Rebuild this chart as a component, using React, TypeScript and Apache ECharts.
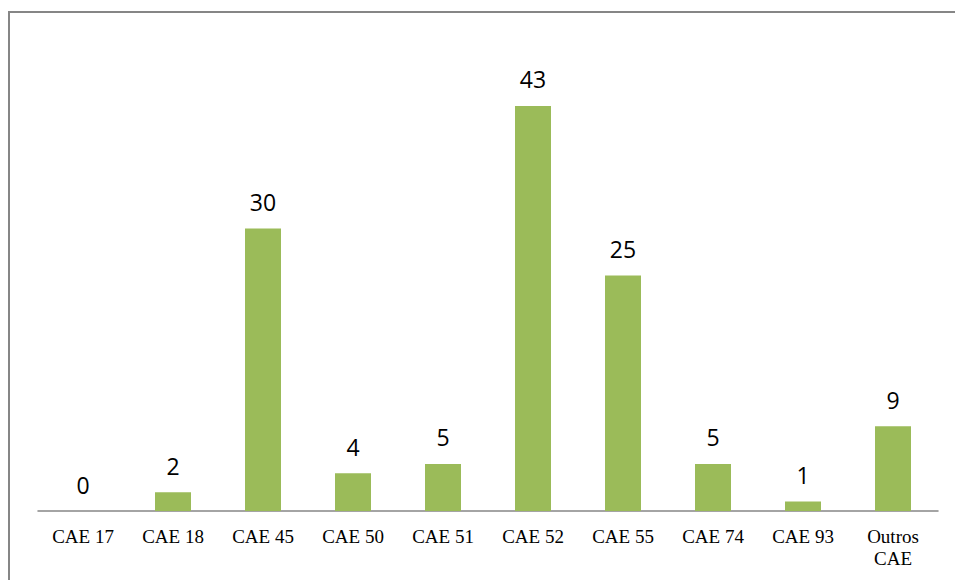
import React, { useEffect, useRef } from "react";
import * as echarts from "echarts";

const categories: string[] = [
  "CAE 17",
  "CAE 18",
  "CAE 45",
  "CAE 50",
  "CAE 51",
  "CAE 52",
  "CAE 55",
  "CAE 74",
  "CAE 93",
  "Outros\nCAE",
];
const values: number[] = [0, 2, 30, 4, 5, 43, 25, 5, 1, 9];

const BAR_COLOR = "#9BBB59";
const AXIS_COLOR = "#868686";

export default function App() {
  const ref = useRef<HTMLDivElement>(null);

  useEffect(() => {
    if (!ref.current) return;
    const chart = echarts.init(ref.current, undefined, { renderer: "svg" });
    chart.setOption({
      animation: false,
      backgroundColor: "#ffffff",
      graphic: [
        {
          type: "rect",
          shape: { x: 9, y: 12, width: 960, height: 600 },
          style: { fill: "none", stroke: AXIS_COLOR, lineWidth: 2 },
          silent: true,
        },
      ],
      grid: { left: 38, right: 17, top: 40, bottom: 69 },
      xAxis: {
        type: "category",
        data: categories,
        axisLine: { show: true, lineStyle: { color: AXIS_COLOR, width: 1.5 } },
        axisTick: { show: false },
        axisLabel: {
          color: "#000000",
          fontFamily: "Liberation Serif",
          fontSize: 19,
          lineHeight: 22,
          margin: 14,
          interval: 0,
        },
      },
      yAxis: {
        type: "value",
        min: 0,
        max: 50,
        show: false,
        splitLine: { show: false },
      },
      series: [
        {
          type: "bar",
          data: values,
          barWidth: "40%",
          itemStyle: { color: BAR_COLOR },
          label: {
            show: true,
            position: "top",
            distance: 15,
            color: "#000000",
            fontFamily: "Open Sans",
            fontSize: 23,
          },
        },
      ],
    });
    return () => chart.dispose();
  }, []);

  return (
    <div
      ref={ref}
      style={{ position: "fixed", left: 0, top: 0, width: 955, height: 580 }}
    />
  );
}
